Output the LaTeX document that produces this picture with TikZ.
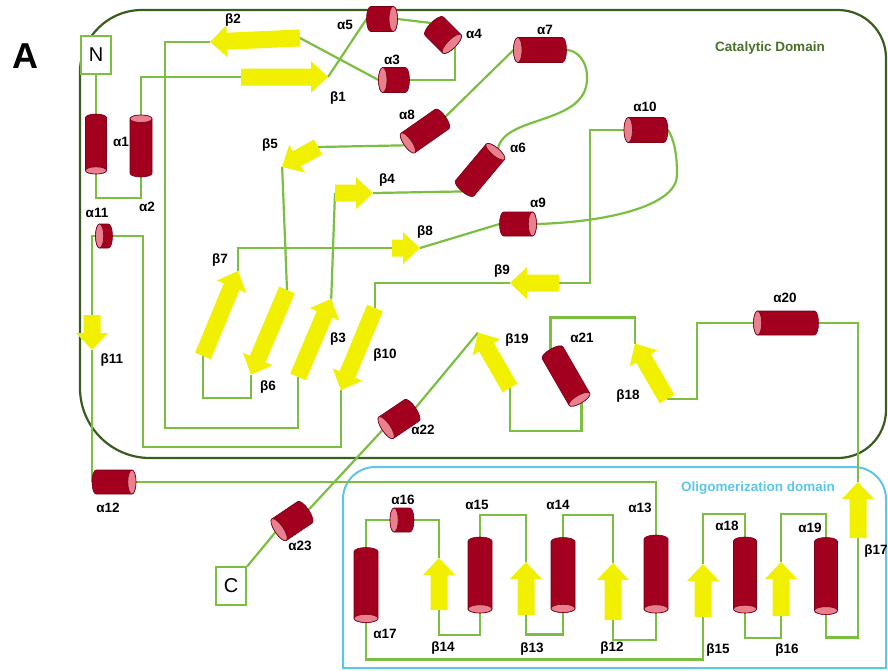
\documentclass[tikz,border=0pt]{standalone}
\usepackage{fontspec}
\setmainfont{Liberation Sans}

\definecolor{helixred}{RGB}{163,0,32}
\definecolor{helixend}{RGB}{232,128,142}
\definecolor{helixedge}{RGB}{120,0,22}
\definecolor{strandyellow}{RGB}{240,240,0}
\definecolor{loopgreen}{RGB}{122,190,66}
\definecolor{catgreen}{RGB}{58,92,30}
\definecolor{cattext}{RGB}{72,112,40}
\definecolor{oligoblue}{RGB}{92,198,230}

\pgfdeclarelayer{bg}
\pgfsetlayers{bg,main}

\tikzset{
  helixbody/.style={fill=helixred, draw=helixedge, line width=0.6pt},
  helixcap/.style={fill=helixend, draw=helixedge, line width=0.6pt},
  loop/.style={draw=loopgreen, line width=2.2pt},
  lab/.style={font=\bfseries\fontsize{13.5}{14}\selectfont},
  domtext/.style={font=\bfseries\fontsize{13.5}{14}\selectfont},
  termbox/.style={draw=loopgreen, line width=2pt, fill=white, inner sep=0pt,
    minimum width=30pt, minimum height=38pt, font=\fontsize{20}{20}\selectfont}
}

% helix: name, x, y, angle, length, diameter
\newcommand\helix[6]{%
  \begin{scope}[shift={(#2,#3)}, rotate=#4]
    \pgfmathsetmacro\he{#6*0.17}
    \pgfmathsetmacro\hl{#5/2-\he}
    \pgfmathsetmacro\hr{#6/2}
    \filldraw[helixbody] (-\hl,-\hr) -- (\hl,-\hr)
      arc[start angle=-90, end angle=90, x radius=\he, y radius=\hr]
      -- (-\hl,\hr) arc[start angle=90, end angle=270, x radius=\he, y radius=\hr] -- cycle;
    \filldraw[helixcap] (\hl,0) ellipse [x radius=\he, y radius=\hr];
    \coordinate (#1top) at (\hl+\he,0);
    \coordinate (#1bot) at (-\hl-\he,0);
  \end{scope}}

% strand: name, tail x, tail y, angle, length
\newcommand\betastrand[5]{%
  \begin{scope}[shift={(#2,#3)}, rotate=#4]
    \fill[strandyellow] (0,-8.5) -- (#5-17,-8.5) -- (#5-17,-16) -- (#5,0)
      -- (#5-17,16) -- (#5-17,8.5) -- (0,8.5) -- cycle;
    \coordinate (#1t) at (0,0);
    \coordinate (#1h) at (#5,0);
  \end{scope}}

\begin{document}
\begin{tikzpicture}[x=1pt,y=-1pt]
\useasboundingbox (0,0) rectangle (888,670);

% domains
\begin{pgfonlayer}{bg}
\draw[catgreen, line width=2.2pt] (80,240) [rounded corners=62pt] |- (480,10)
  [rounded corners=48pt] -| (886,240) |- (480,458) [rounded corners=70pt] -| (80,240) -- cycle;
\draw[oligoblue, line width=2pt] (343,668) [rounded corners=32pt] |- (886,467)
  [sharp corners] -- (886,668) -- cycle;
\end{pgfonlayer}

\node[font=\bfseries\fontsize{36}{36}\selectfont] (panel) at (25,56) {A};
\node[domtext, text=cattext] (catlab) at (770,48) {Catalytic Domain};
\node[domtext, text=oligoblue] (oliglab) at (758,488) {Oligomerization domain};

\node[termbox] (N) at (96,55) {N};
\node[termbox] (C) at (231,586) {C};

% helices
\helix{a1}{96}{144}{-90}{60}{21}
\helix{a2}{141}{146}{90}{62}{22}
\helix{a3}{394}{80}{180}{31}{25}
\helix{a4}{443}{35}{-45}{34}{26}
\helix{a5}{382}{19}{0}{31}{25}
\helix{a6}{480}{170}{50}{56}{24}
\helix{a7}{540}{50}{180}{53}{25}
\helix{a8}{425}{131}{215}{50}{24}
\helix{a9}{518}{224}{0}{37}{24}
\helix{a10}{646}{130}{180}{44}{25}
\helix{a11}{104}{236}{180}{17}{24}
\helix{a12}{114}{482}{0}{44}{24}
\helix{a13}{656}{574}{-90}{78}{24}
\helix{a14}{563}{575}{-90}{75}{24}
\helix{a15}{480}{575}{-90}{76}{24}
\helix{a16}{402}{520}{180}{24}{24}
\helix{a17}{366}{585}{-90}{75}{24}
\helix{a18}{745}{575}{-90}{76}{23}
\helix{a19}{826}{576}{-90}{77}{23}
\helix{a20}{786}{323}{180}{65}{24}
\helix{a21}{566}{376}{-60}{62}{24}
\helix{a22}{399}{419}{214}{40}{26}
\helix{a23}{292}{521}{214}{40}{26}

% strands
\betastrand{b1}{241}{77}{0}{87}
\betastrand{b2}{300}{38}{182.5}{90}
\betastrand{b3}{298}{377}{67}{85}
\betastrand{b4}{335}{193}{0}{38}
\betastrand{b5}{318}{147}{209}{41}
\betastrand{b6}{287}{290}{247}{92}
\betastrand{b7}{203}{356}{67.6}{92}
\betastrand{b8}{392}{248}{0}{28}
\betastrand{b9}{559}{283}{180}{49}
\betastrand{b10}{375}{308}{247.5}{89}
\betastrand{b11}{92}{315}{-90}{35}
\betastrand{b12}{613}{620}{90}{57}
\betastrand{b13}{526}{615}{90}{53}
\betastrand{b14}{439}{610}{90}{52}
\betastrand{b15}{703}{617}{90}{53}
\betastrand{b16}{781}{616}{90}{54}
\betastrand{b17}{858}{538}{90}{56}
\betastrand{b18}{667}{399}{120}{64}
\betastrand{b19}{510}{388}{120}{64}

% loops
\begin{pgfonlayer}{bg}
\draw[loop] (N) -- (a1bot);
\draw[loop] (a1top) -- ++(0,24) -| (a2bot);
\draw[loop] (a2top) |- (b1t);
\draw[loop] (b1h) -- (a5bot);
\draw[loop] (a5top) -- (a4bot);
\draw[loop] (a4top) |- (a3bot);
\draw[loop] (a3top) -- (b2t);
\draw[loop] (b2h) -| (165,428) -| (b3t);
\draw[loop] (b3h) -- (b4t);
\draw[loop] (b4h) -- (a6bot);
\draw[loop] (a6top) .. controls (505,115) and (585,125) .. (587,80)
  .. controls (588,60) and (576,50) .. (a7bot);
\draw[loop] (a7top) -- (a8bot);
\draw[loop] (a8top) -- (b5t);
\draw[loop] (b5h) -- (b6t);
\draw[loop] (b6h) -- ++(0,23) -| (b7t);
\draw[loop] (b7h) |- (b8t);
\draw[loop] (b8h) -- (a9bot);
\draw[loop] (a9top) .. controls (610,222) and (677,205) .. (677,175)
  .. controls (677,150) and (673,138) .. (a10bot);
\draw[loop] (a10top) -| (590,283) -- (b9t);
\draw[loop] (b9h) -| (b10t);
\draw[loop] (b10h) -- ++(0,57) -| (143,236) -- (a11bot);
\draw[loop] (a11top) -| (b11t);
\draw[loop] (b11h) -- (a12bot);
\draw[loop] (a12top) -| (a13bot);
\draw[loop] (a13top) -- ++(0,27) -| (b12t);
\draw[loop] (b12h) -- ++(0,-48) -| (a14bot);
\draw[loop] (a14top) -- ++(0,22) -| (b13t);
\draw[loop] (b13h) -- ++(0,-47) -| (a15bot);
\draw[loop] (a15top) -- ++(0,22) -| (b14t);
\draw[loop] (b14h) |- (a16bot);
\draw[loop] (a16top) -| (a17bot);
\draw[loop] (a17top) -- ++(0,37) -| (b15t);
\draw[loop] (b15h) -- ++(0,-50) -| (a18bot);
\draw[loop] (a18top) -- ++(0,25) -| (b16t);
\draw[loop] (b16h) -- ++(0,-48) -| (a19bot);
\draw[loop] (a19top) -- ++(0,23) -| (b17t);
\draw[loop] (b17h) |- (a20bot);
\draw[loop] (a20top) -| (697,399) -- (b18t);
\draw[loop] (b18h) -- ++(0,-26) -| (a21bot);
\draw[loop] (a21top) -- ++(0,28) -| (b19t);
\draw[loop] (b19h) -- (a22bot);
\draw[loop] (a22top) -- (a23bot);
\draw[loop] (a23top) -- (C);
\end{pgfonlayer}

% labels
\node[lab] (la1) at (121,142) {α1};
\node[lab] (la2) at (147,207) {α2};
\node[lab] (la3) at (392,60) {α3};
\node[lab] (la4) at (474,34) {α4};
\node[lab] (la5) at (345,25) {α5};
\node[lab] (la6) at (518,148) {α6};
\node[lab] (la7) at (545,30) {α7};
\node[lab] (la8) at (407,115) {α8};
\node[lab] (la9) at (538,203) {α9};
\node[lab] (la10) at (645,107) {α10};
\node[lab] (la11) at (97,213) {α11};
\node[lab] (la12) at (108,508) {α12};
\node[lab] (la13) at (640,508) {α13};
\node[lab] (la14) at (558,505) {α14};
\node[lab] (la15) at (477,505) {α15};
\node[lab] (la16) at (403,500) {α16};
\node[lab] (la17) at (385,634) {α17};
\node[lab] (la18) at (727,526) {α18};
\node[lab] (la19) at (810,528) {α19};
\node[lab] (la20) at (785,298) {α20};
\node[lab] (la21) at (582,338) {α21};
\node[lab] (la22) at (423,430) {α22};
\node[lab] (la23) at (300,546) {α23};
\node[lab] (lb1) at (338,98) {β1};
\node[lab] (lb2) at (233,20) {β2};
\node[lab] (lb3) at (338,339) {β3};
\node[lab] (lb4) at (387,180) {β4};
\node[lab] (lb5) at (270,145) {β5};
\node[lab] (lb6) at (268,387) {β6};
\node[lab] (lb7) at (220,260) {β7};
\node[lab] (lb8) at (425,232) {β8};
\node[lab] (lb9) at (502,271) {β9};
\node[lab] (lb10) at (385,355) {β10};
\node[lab] (lb11) at (112,360) {β11};
\node[lab] (lb12) at (612,648) {β12};
\node[lab] (lb13) at (532,649) {β13};
\node[lab] (lb14) at (443,648) {β14};
\node[lab] (lb15) at (718,650) {β15};
\node[lab] (lb16) at (787,650) {β16};
\node[lab] (lb17) at (876,551) {β17};
\node[lab] (lb18) at (628,396) {β18};
\node[lab] (lb19) at (517,340) {β19};

\end{tikzpicture}
\end{document}
